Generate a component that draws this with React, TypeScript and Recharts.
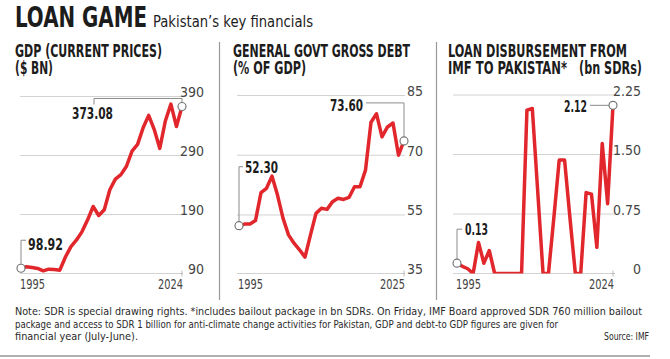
import React, { useLayoutEffect, useRef, useState } from 'react';
import { LineChart, Line, XAxis, YAxis, CartesianGrid } from 'recharts';

const FONT = "'Liberation Sans Narrow', 'Arial Narrow', 'DejaVu Sans Condensed', 'Roboto Condensed', sans-serif";

const gdpYears = [1995, 1996, 1997, 1998, 1999, 2000, 2001, 2002, 2003, 2004, 2005, 2006, 2007, 2008, 2009, 2010, 2011, 2012, 2013, 2014, 2015, 2016, 2017, 2018, 2019, 2020, 2021, 2022, 2023, 2024];
const gdpValues = [98.92, 101.4, 100.0, 98.5, 94.5, 97.4, 96.8, 95.7, 118, 135.5, 146.8, 161, 181, 203.6, 188.3, 198, 232, 250, 257.6, 271.8, 297.4, 308.8, 337, 358, 334, 302, 348.5, 377, 339, 373.08];
const gdpTicks = [90, 190, 290, 390];
const gdpTickLabels = ['90', '190', '290', '390'];

const debtYears = [1995, 1996, 1997, 1998, 1999, 2000, 2001, 2002, 2003, 2004, 2005, 2006, 2007, 2008, 2009, 2010, 2011, 2012, 2013, 2014, 2015, 2016, 2017, 2018, 2019, 2020, 2021, 2022, 2023, 2024, 2025];
const debtValues = [52.30, 52.7, 52.75, 53.6, 60.6, 61.7, 64.75, 60, 54.2, 50, 47.9, 46.25, 44.4, 50, 55.4, 56.7, 56.4, 58.3, 59.2, 58.9, 59.4, 62.1, 62.1, 66.25, 78.3, 80.4, 74.6, 77.1, 78.1, 70, 73.60];
const debtTicks = [40.3, 55, 70, 85];
const debtTickLabels = ['35', '55', '70', '85'];

const imfYears = [1995, 1996, 1997, 1998, 1999, 2000, 2001, 2002, 2003, 2004, 2005, 2006, 2007, 2008, 2009, 2010, 2011, 2012, 2013, 2014, 2015, 2016, 2017, 2018, 2019, 2020, 2021, 2022, 2023, 2024];
const imfValues = [0.13, 0.09, 0.06, 0.0, 0.39, 0.13, 0.29, 0, 0, 0, 0, 0, 0, 2.06, 2.08, 1.04, 0, 0, 0.7, 1.43, 1.43, 0.7, 0, 0, 1.02, 1.0, 0.33, 1.64, 0.88, 2.12];
const imfTicks = [0, 0.75, 1.5, 2.25];
const imfTickLabels = ['0', '0.75', '1.50', '2.25'];

const gdpData = gdpYears.map((year, i) => ({ year, v: gdpValues[i] }));
const debtData = debtYears.map((year, i) => ({ year, v: debtValues[i] }));
const imfData = imfYears.map((year, i) => ({ year, v: imfValues[i] }));

const RED = '#e1262c';
const LEADER = '#8a8a8a';
const GRID = '#d2d2d2';

// Single-line text fitted to a measured width (font size fitted, vertical scale restores height).
const FitText = ({ x, y, w, size, weight = 'normal', anchor = 'start', fill = '#1c1c1c', children }: any) => {
  const ref = useRef<SVGTextElement>(null);
  const [fs, setFs] = useState<number | null>(null);
  useLayoutEffect(() => {
    if (ref.current && fs === null) {
      const nat = ref.current.getComputedTextLength();
      if (nat > 0) setFs((size * w) / nat);
    }
  }, [fs, size, w]);
  const f = fs ?? size;
  const sy = size / f;
  return (
    <text ref={ref} transform={`translate(${x},${y}) scale(1,${sy})`} x={0} y={0} fontSize={f}
      fontWeight={weight} textAnchor={anchor} fill={fill} fontFamily={FONT}
      textLength={fs ? w : undefined} lengthAdjust="spacingAndGlyphs">{children}</text>
  );
};

// Multi-line text (one text element, one tspan per run), fitted on its first run.
const MultiText = ({ x, y, size, weight = 'bold', fill = '#1c1c1c', runs }: any) => {
  const ref = useRef<SVGTSpanElement>(null);
  const [fs, setFs] = useState<number | null>(null);
  useLayoutEffect(() => {
    if (ref.current && fs === null) {
      const nat = ref.current.getComputedTextLength();
      if (nat > 0) setFs((size * runs[0].w) / nat);
    }
  }, [fs, size, runs]);
  const f = fs ?? size;
  const sy = size / f;
  return (
    <text transform={`translate(${x},${y}) scale(1,${sy})`} fontSize={f} fontWeight={weight}
      fill={fill} fontFamily={FONT}>
      {runs.map((r: any, i: number) => (
        <tspan key={i} ref={i === 0 ? ref : undefined} x={r.dx} y={r.dy / sy}
          textLength={fs ? r.w : undefined} lengthAdjust="spacingAndGlyphs">{r.t}</tspan>
      ))}
    </text>
  );
};

const Circle = ({ cx, cy }: any) => (
  <circle cx={cx} cy={cy} r={4} fill="#fff" stroke="#777" strokeWidth={1.2} />
);

const Lbl = ({ x, y, w, anchor = 'start', children }: any) => (
  <FitText x={x} y={y} w={w} size={16} weight="bold" anchor={anchor} fill="#1c1c1c">{children}</FitText>
);

const makeDot = (n: number, first: (cx: number, cy: number) => any, last: (cx: number, cy: number) => any) => (props: any) => {
  const { cx, cy, index } = props;
  if (index === 0) return <g key={`d${index}`}>{first(cx, cy)}</g>;
  if (index === n - 1) return <g key={`d${index}`}>{last(cx, cy)}</g>;
  return <g key={`d${index}`} />;
};

const gdpDot = makeDot(gdpData.length,
  (cx, cy) => (
    <>
      <path d={`M${cx},${cy - 4} V${cy - 28} H${cx + 5}`} stroke={LEADER} fill="none" strokeWidth={1} />
      <Circle cx={cx} cy={cy} />
      <Lbl x={cx + 7} y={cy - 18} w={35}>{gdpValues[0].toFixed(2)}</Lbl>
    </>
  ),
  (cx, cy) => (
    <>
      <path d={`M${cx - 88},${cy - 2} V${cy - 8} H${cx} V${cy - 4}`} stroke={LEADER} fill="none" strokeWidth={1} />
      <Circle cx={cx} cy={cy} />
      <Lbl x={cx - 110} y={cy + 13} w={41}>{gdpValues[gdpValues.length - 1].toFixed(2)}</Lbl>
    </>
  ));

const debtDot = makeDot(debtData.length,
  (cx, cy) => (
    <>
      <path d={`M${cx},${cy - 4} V${cy - 59} H${cx + 4}`} stroke={LEADER} fill="none" strokeWidth={1} />
      <Circle cx={cx} cy={cy} />
      <Lbl x={cx + 6} y={cy - 53} w={33}>{debtValues[0].toFixed(2)}</Lbl>
    </>
  ),
  (cx, cy) => (
    <>
      <path d={`M${cx - 38},${cy - 38} H${cx} V${cy - 4}`} stroke={LEADER} fill="none" strokeWidth={1} />
      <Circle cx={cx} cy={cy} />
      <Lbl x={cx - 41} y={cy - 30} w={33} anchor="end">{debtValues[debtValues.length - 1].toFixed(2)}</Lbl>
    </>
  ));

const imfDot = makeDot(imfData.length,
  (cx, cy) => (
    <>
      <path d={`M${cx},${cy - 4} V${cy - 34} H${cx + 5}`} stroke={LEADER} fill="none" strokeWidth={1} />
      <Circle cx={cx} cy={cy} />
      <Lbl x={cx + 8} y={cy - 28} w={23}>{imfValues[0].toFixed(2)}</Lbl>
    </>
  ),
  (cx, cy) => (
    <>
      <path d={`M${cx - 23},${cy} H${cx - 4}`} stroke={LEADER} fill="none" strokeWidth={1} />
      <Circle cx={cx} cy={cy} />
      <Lbl x={cx - 26} y={cy + 6.5} w={23} anchor="end">{imfValues[imfValues.length - 1].toFixed(2)}</Lbl>
    </>
  ));

const makeYTick = (ticks: number[], labels: string[], off: number) => (props: any) => {
  const { x, y, payload } = props;
  const i = ticks.indexOf(payload.value);
  return (
    <text x={x + off} y={y + 0.5} textAnchor="end" fontSize={14} fill="#444" fontFamily={FONT}>
      {labels[i] ?? String(payload.value)}
    </text>
  );
};

const makeXTick = (firstYear: number, pad: number) => (props: any) => {
  const { x, y, payload } = props;
  const isFirst = payload.value === firstYear;
  return (
    <g>
      {!isFirst && <line x1={x} x2={x} y1={y - 3} y2={y + 3} stroke="#bdbdbd" strokeWidth={1} />}
      {!isFirst && <line x1={x - 2} x2={x + pad} y1={y} y2={y} stroke="#bdbdbd" strokeWidth={1} />}
      <FitText x={isFirst ? x - 1 : x + 1} y={y + 15.5} anchor={isFirst ? 'start' : 'end'}
        size={14} w={25} fill="#444">{String(payload.value)}</FitText>
    </g>
  );
};

type PanelProps = {
  left: number; width: number; marginLeft: number; marginTop: number; yWidth: number;
  data: any[]; domain: [number, number]; ticks: number[]; labels: string[]; labelOff: number;
  xTicks: number[]; pad: { left: number; right: number }; dot: any;
};

const Panel = (p: PanelProps) => (
  <div style={{ position: 'absolute', left: p.left, top: 0 }}>
    <LineChart width={p.width} height={300} data={p.data}
      margin={{ top: p.marginTop, right: 0, left: p.marginLeft, bottom: 6.5 }}>
      <CartesianGrid vertical={false} stroke={GRID} strokeWidth={1} />
      <XAxis dataKey="year" type="number" domain={[p.xTicks[0], p.xTicks[1]]} ticks={p.xTicks}
        axisLine={false} tickLine={false} tickSize={0} tickMargin={0} height={20}
        padding={p.pad} tick={makeXTick(p.xTicks[0], p.pad.right)} interval={0} />
      <YAxis orientation="right" type="number" domain={p.domain} ticks={p.ticks} width={p.yWidth}
        axisLine={false} tickLine={false} tickSize={0} tickMargin={0} interval={0}
        tick={makeYTick(p.ticks, p.labels, p.labelOff)} allowDataOverflow />
      <Line type="linear" dataKey="v" stroke={RED} strokeWidth={3.5} strokeLinejoin="round"
        strokeLinecap="round" isAnimationActive={false} dot={p.dot} activeDot={false} />
    </LineChart>
  </div>
);

export default function App() {
  return (
    <div style={{ position: 'absolute', left: 0, top: 0, width: 670, height: 359, background: '#fff', overflow: 'hidden' }}>
      <svg width={670} height={359} style={{ position: 'absolute', left: 0, top: 0 }}>
        <FitText x={15} y={27} w={132} size={28} weight="bold">LOAN GAME</FitText>
        <FitText x={153} y={26.5} w={160} size={16.5}>Pakistan’s key financials</FitText>
        <MultiText x={15} y={57} size={18} runs={[
          { t: 'GDP (CURRENT PRICES)', dx: 0, dy: 0, w: 147 },
          { t: '($ BN)', dx: 0, dy: 17, w: 38 },
        ]} />
        <MultiText x={233} y={57} size={18} runs={[
          { t: 'GENERAL GOVT GROSS DEBT', dx: 0, dy: 0, w: 177 },
          { t: '(% OF GDP)', dx: 0, dy: 17, w: 73 },
        ]} />
        <MultiText x={448} y={57} size={18} runs={[
          { t: 'LOAN DISBURSEMENT FROM', dx: 0, dy: 0, w: 179 },
          { t: 'IMF TO PAKISTAN*', dx: 0, dy: 17.5, w: 119 },
          { t: '(bn SDRs)', dx: 131, dy: 17.5, w: 63 },
        ]} />
        <line x1={219.5} x2={219.5} y1={42} y2={300} stroke="#9a9a9a" strokeWidth={1.2} />
        <line x1={436.5} x2={436.5} y1={42} y2={300} stroke="#9a9a9a" strokeWidth={1.2} />
        <FitText x={15} y={315} w={627} size={11} fill="#2a2a2a">Note: SDR is special drawing rights. *includes bailout package in bn SDRs. On Friday, IMF  Board approved SDR 760 million bailout</FitText>
        <FitText x={15} y={327.5} w={543} size={11} fill="#2a2a2a">package and access to SDR 1 billion for anti-climate change activities for Pakistan,  GDP and debt-to GDP figures are given for</FitText>
        <FitText x={15} y={340} w={123} size={11} fill="#2a2a2a">financial year (July-June).</FitText>
        <FitText x={649} y={340} w={45} size={11} anchor="end" fill="#2a2a2a">Source: IMF</FitText>
        <line x1={0} x2={650} y1={356} y2={356} stroke="#b0b0b0" strokeWidth={2} />
      </svg>
      <Panel left={0} width={225} marginLeft={20} marginTop={96.5} yWidth={42}
        data={gdpData} domain={[90, 390]} ticks={gdpTicks} labels={gdpTickLabels} labelOff={21}
        xTicks={[1995, 2024]} pad={{ left: 1, right: 1 }} dot={gdpDot} />
      <Panel left={220} width={210} marginLeft={17} marginTop={95.5} yWidth={25}
        data={debtData} domain={[40.3, 85]} ticks={debtTicks} labels={debtTickLabels} labelOff={18}
        xTicks={[1995, 2025]} pad={{ left: 2, right: 1 }} dot={debtDot} />
      <Panel left={437} width={208} marginLeft={16} marginTop={95} yWidth={30}
        data={imfData} domain={[0, 2.25]} ticks={imfTicks} labels={imfTickLabels} labelOff={26}
        xTicks={[1995, 2024]} pad={{ left: 4, right: 2 }} dot={imfDot} />
    </div>
  );
}
